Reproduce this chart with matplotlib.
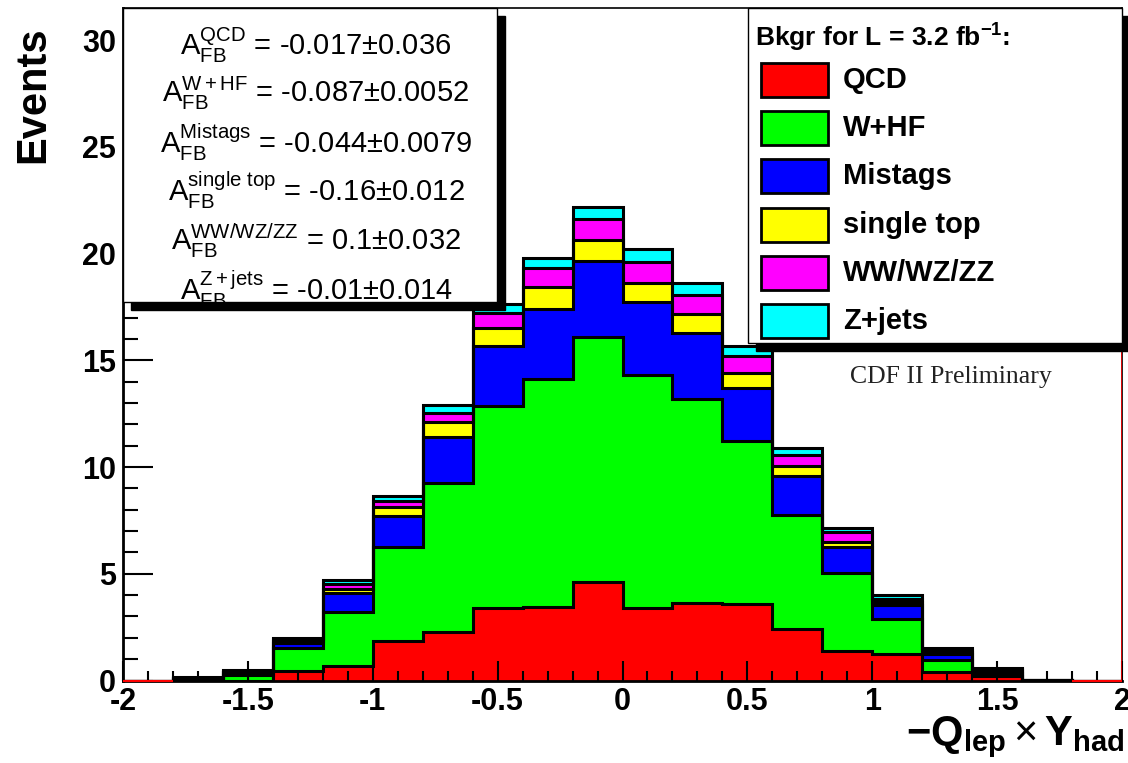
import matplotlib
matplotlib.use('Agg')
import matplotlib.pyplot as plt
from matplotlib.patches import Rectangle
from matplotlib.ticker import MultipleLocator
import numpy as np

plt.rcParams['font.family'] = ['Liberation Sans', 'DejaVu Sans']
plt.rcParams['mathtext.fontset'] = 'custom'
plt.rcParams['mathtext.rm'] = 'Liberation Sans'
plt.rcParams['mathtext.bf'] = 'Liberation Sans:bold'
plt.rcParams['mathtext.it'] = 'Liberation Sans:italic'

# 20 bins from -2 to 2
edges = np.linspace(-2, 2, 21)

qcd        = [0, 0,    0,    0.45, 0.7, 1.85, 2.25, 3.4,  3.45,  4.6,  3.4,  3.65, 3.6, 2.4,  1.38, 1.23, 0.38, 0.2,  0,    0]
whf        = [0, 0.05, 0.27, 1.05, 2.5, 4.4,  7.0,  9.45, 10.65, 11.5, 10.9, 9.55, 7.6, 5.35, 3.67, 1.67, 0.6,  0.15, 0.02, 0]
mistags    = [0, 0.04, 0.1,  0.25, 0.9, 1.45, 2.15, 2.8,  3.3,   3.55, 3.45, 3.1,  2.5, 1.85, 1.2,  0.62, 0.25, 0.1,  0,    0]
single_top = [0, 0.02, 0.05, 0.1,  0.2, 0.45, 0.7,  0.85, 1.05,  1.0,  0.85, 0.85, 0.7, 0.45, 0.25, 0.15, 0.1,  0.05, 0,    0]
diboson    = [0, 0.02, 0.03, 0.1,  0.2, 0.25, 0.45, 0.7,  0.85,  0.95, 1.0,  0.9,  0.8, 0.5,  0.45, 0.15, 0.1,  0.05, 0,    0]
zjets      = [0, 0.02, 0.02, 0.05, 0.2, 0.25, 0.35, 0.45, 0.5,   0.6,  0.6,  0.55, 0.45, 0.35, 0.2, 0.2,  0.1,  0.05, 0,    0]

labels = ['QCD', 'W+HF', 'Mistags', 'single top', 'WW/WZ/ZZ', 'Z+jets']
colors = ['#ff0000', '#00ff00', '#0000ff', '#ffff00', '#ff00ff', '#00ffff']
series = [qcd, whf, mistags, single_top, diboson, zjets]

afb_tags = ['QCD', 'W+HF', 'Mistags', r'single\ top', 'WW/WZ/ZZ', 'Z+jets']
afb_vals = ['-0.017±0.036', '-0.087±0.0052', '-0.044±0.0079', '-0.16±0.012', '0.1±0.032', '-0.01±0.014']

xticks = [-2, -1.5, -1, -0.5, 0, 0.5, 1, 1.5, 2]
xtick_labels = ['-2', '-1.5', '-1', '-0.5', '0', '0.5', '1', '1.5', '2']
yticks = [0, 5, 10, 15, 20, 25, 30]

W, H = 1128, 763
fig = plt.figure(figsize=(W / 100, H / 100), dpi=100)
ax = fig.add_axes([123 / W, 1 - 680.5 / H, (1122 - 123) / W, (680.5 - 8) / H])

cum = np.cumsum(np.array(series), axis=0)
# THStack style: draw the full sum first, then each lower layer on top
for i in range(len(series) - 1, -1, -1):
    ax.stairs(cum[i], edges, fill=True, color=colors[i], zorder=1)
    ax.stairs(cum[i], edges, color='black', lw=2.2, zorder=1.2)

total = cum[-1]
for j in np.where(total == 0)[0]:
    ax.hlines(0, edges[j], edges[j + 1], color='red', lw=1.5, zorder=6, clip_on=False)
ax.axvline(edges[-1], color='red', lw=1.2, zorder=6)

ax.set_xlim(-2, 2)
ax.set_ylim(0, 31.5)
ax.set_xticks(xticks)
ax.set_xticklabels(xtick_labels)
ax.set_yticks(yticks)
ax.xaxis.set_minor_locator(MultipleLocator(0.1))
ax.yaxis.set_minor_locator(MultipleLocator(1))
ax.tick_params(which='both', direction='in', top=False, right=False, width=1.5)
ax.tick_params(axis='x', which='major', length=14.4, pad=5)
ax.tick_params(axis='x', which='minor', length=7.2)
ax.tick_params(axis='y', which='major', length=21.6, pad=5)
ax.tick_params(axis='y', which='minor', length=10.8)
for t in ax.get_xticklabels() + ax.get_yticklabels():
    t.set_fontsize(22)
    t.set_fontweight('bold')
for s in ['left', 'bottom']:
    ax.spines[s].set_linewidth(2)
    ax.spines[s].set_zorder(5)
for s in ['top', 'right']:
    ax.spines[s].set_linewidth(1.2)

# overlay in pixel coordinates for boxes and labels
ov = fig.add_axes([0, 0, 1, 1], zorder=5)
ov.set_xlim(0, W)
ov.set_ylim(H, 0)
ov.axis('off')
ov.patch.set_alpha(0)

# stats box
ov.add_patch(Rectangle((131, 16), 374, 294, color='black'))
box = Rectangle((123, 8), 374, 294, facecolor='white', edgecolor='black', lw=1)
ov.add_patch(box)
ys = [55, 102, 153, 201, 250, 300]
for tag, val, y in zip(afb_tags, afb_vals, ys):
    t = ov.text(316, y, r'$\mathregular{A_{FB}^{' + tag + '}}$ = ' + val,
                ha='center', va='baseline', fontsize=21)
    t.set_clip_path(box)

# legend box
ov.add_patch(Rectangle((756, 16), 374, 335, color='black'))
ov.add_patch(Rectangle((748, 8), 374, 335, facecolor='white', edgecolor='black', lw=1))
ov.text(755, 38, r'Bkgr for L = 3.2 fb$^{\mathbf{-1}}$:', ha='left', va='center',
        fontsize=19, fontweight='bold')
for k, (lab, col) in enumerate(zip(labels, colors)):
    yc = 80 + 48.2 * k
    ov.add_patch(Rectangle((761, yc - 17), 67, 34, facecolor=col, edgecolor='black', lw=2))
    ov.text(843, yc, lab, ha='left', va='center', fontsize=21, fontweight='bold')

ov.text(850, 377, 'CDF II Preliminary', ha='left', va='center', fontsize=18.5,
        family='Liberation Serif', color='#222222')

ov.text(33, 95, 'Events', rotation=90, ha='center', va='center', fontsize=30, fontweight='bold')
ov.text(1125, 745, r'$\mathbf{-Q_{lep}}\times\mathbf{Y_{had}}$', ha='right', va='baseline', fontsize=30)

fig.savefig('out.png', dpi=100)
